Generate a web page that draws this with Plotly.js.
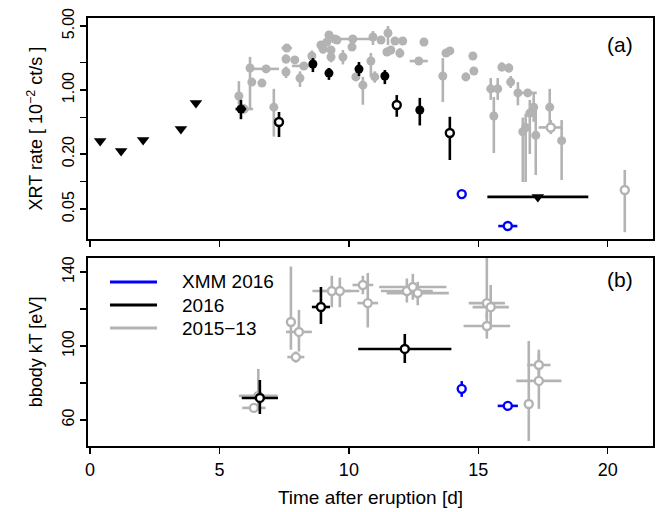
<!DOCTYPE html>
<html><head><meta charset="utf-8">
<script src="https://cdn.plot.ly/plotly-3.0.1.min.js"></script>
<style>html,body{margin:0;padding:0;background:#fff}#c{width:660px;height:512px}</style>
</head><body><div id="c"></div>
<script>
// ---------- Panel (a): XRT rate [1e-2 ct/s] ----------
// 2015-13 (gray, filled)
const g15X  = [5.75,6.18,5.95,6.25,6.64,6.80,7.10,7.60,7.57,7.91, 7.57,8.11,8.26,8.57,8.92,9.00,9.15,9.23,9.46,9.31, 9.31,9.54,9.77,10.15,10.12,10.27,10.93,11.24,11.51,11.47, 11.62,11.78,12.08,11.97,10.85,10.54,11.00,12.90,12.70,13.63, 13.75,13.90,14.52,14.79,14.83,15.48,15.75,15.60,15.91,16.18, 16.25,16.53,16.91,17.14,16.99,16.83,16.72,17.22,17.76,18.22];
const g15Y  = [0.86,1.74,0.62,1.22,1.19,1.70,0.65,2.87,2.18,2.13, 1.57,1.35,1.83,2.35,3.10,2.80,3.34,3.98,3.60,2.73, 2.29,3.51,2.29,3.60,2.95,1.39,3.79,3.51,4.19,2.60, 2.73,3.43,3.43,2.53,2.07,1.13,1.39,3.34,2.07,1.42, 2.53,2.67,1.39,2.35,1.61,1.03,1.03,0.52,1.78,1.74, 1.22,0.93,0.93,0.65,0.56,0.39,0.35,0.32,0.65,0.28];
const g15Lo = [0.69,0.61,0.55,1.16,1.13,1.62,0.31,2.70,1.95,1.95, 1.35,1.08,1.74,2.0,2.8,2.5,3.0,3.6,3.3,2.4, 2.0,3.2,1.9,3.3,2.7,1.25,3.1,3.2,3.1,2.35, 2.45,3.1,3.1,2.25,1.39,0.69,1.2,3.1,1.98,0.74, 2.35,2.5,1.25,2.2,1.5,0.78,0.78,0.205,1.6,1.55, 1.05,0.68,0.85,0.45,0.2,0.099,0.099,0.118,0.41,0.104];
const g15Hi = [1.25,2.3,0.70,1.29,1.25,1.78,1.03,3.05,2.45,2.35, 1.80,1.60,1.92,2.7,3.4,3.1,3.7,4.4,3.9,3.0, 2.6,3.8,2.73,3.9,3.2,1.55,4.4,3.85,5.0,2.9, 3.0,3.75,3.75,2.85,2.53,1.39,1.6,3.6,2.16,2.23, 2.7,2.85,1.55,2.5,1.72,1.35,1.35,0.84,2.0,1.95, 1.42,1.22,1.0,0.93,0.78,0.55,0.50,0.69,1.03,0.47];
const g15Xe = [0,0,0.35,0.15,0.15,0.5,0,0.2,0,0, 0,0,0.46,0,0,0,0,0.15,0,0, 0,0.15,0,0.7,0,0,0,0,0,0, 0,0,0,0,0,0,0,0.15,0.35,0, 0,0,0,0.15,0.15,0,0,0,0,0, 0,0,0.35,0,0,0,0,0,0,0];
// 2015-13 (gray, open)
const g15oX = [17.80, 20.66];
const g15oY = [0.39, 0.081];
const g15oLo = [0.33, 0.028];
const g15oHi = [0.47, 0.134];
const g15oXe = [0.47, 0];
// 2016 (black, filled)
const b16X  = [5.83, 8.61, 9.23, 10.39, 11.39, 12.74];
const b16Y  = [0.62, 1.92, 1.53, 1.69, 1.42, 0.605];
const b16Lo = [0.48, 1.57, 1.29, 1.42, 1.16, 0.41];
const b16Hi = [0.78, 2.23, 1.74, 2.02, 1.65, 0.82];
const b16Xe = [0.2, 0, 0, 0, 0, 0];
// 2016 (black, open)
const b16oX  = [7.30, 11.85, 13.90];
const b16oY  = [0.447, 0.686, 0.339];
const b16oLo = [0.307, 0.51, 0.172];
const b16oHi = [0.575, 0.88, 0.51];
const b16oXe = [0, 0.15, 0];
// 2016 upper limits (black triangles)
const ulX  = [0.39, 1.20, 2.05, 3.51, 4.09, 17.3];
const ulY  = [0.277, 0.216, 0.285, 0.375, 0.721, 0.068];
const ulXe = [0, 0, 0, 0, 0, 1.95];
// XMM 2016 (blue)
const xmmX  = [14.36, 16.14];
const xmmY  = [0.073, 0.0327];
const xmmLo = [0.070, 0.0315];
const xmmHi = [0.076, 0.034];
const xmmXe = [0.08, 0.37];

// ---------- Panel (b): bbody kT [eV] ----------
const kT15X  = [6.33, 6.50, 7.76, 8.07, 7.95, 9.34, 9.65, 10.54, 10.73, 12.24, 12.47, 12.66, 15.33, 15.48, 15.33, 16.95, 17.34, 17.34];
const kT15Y  = [66.5, 73.0, 113, 107.6, 94.0, 129.7, 129.7, 133, 123.2, 129.7, 131.9, 128.6, 123.2, 121, 110.8, 68.6, 89.7, 81.1];
const kT15Lo = [64, 65, 98, 97, 91, 121, 121, 128, 110, 123.5, 125, 122, 115, 109, 104, 48.6, 82, 66];
const kT15Hi = [69, 87.6, 143, 119.5, 97, 138, 137, 138, 139.5, 136.5, 139, 134.7, 150, 133, 118, 102.7, 98, 96];
const kT15Xe = [0.45, 0.75, 0, 0.5, 0.33, 0.75, 0.75, 0.4, 0.4, 1.0, 1.3, 1.2, 0.7, 0.7, 0.9, 0, 0.45, 0.87];
const kT16X  = [6.56, 8.92, 12.16];
const kT16Y  = [71.9, 121.1, 98.4];
const kT16Lo = [63.2, 111.9, 90.8];
const kT16Hi = [81.6, 131.9, 106.5];
const kT16Xe = [0.7, 0.35, 1.8];
const kTxmmX  = [14.36, 16.14];
const kTxmmY  = [76.8, 67.6];
const kTxmmLo = [72.5, 66.1];
const kTxmmHi = [81.0, 69.1];
const kTxmmXe = [0.1, 0.39];

// tick labels
const xTicks = [0, 5, 10, 15, 20];
const rateTicks = [0.05, 0.2, 1, 5];
const rateTickText = ['0.05', '0.20', '1.00', '5.00'];
const rateMinor = [0.1, 0.5, 2];
const kTTicks = [60, 100, 140];
const kTMinor = [80, 120];

const legendNames = ['XMM 2016', '2016', '2015\u221213'];
const GRAY = '#b3b3b3', BLACK = '#000000', BLUE = '#0000ff';
const legendColors = [BLUE, BLACK, GRAY];

function tr(xs, ys, lo, hi, xe, color, kind, xa, ya) {
  const open = kind === 'open';
  const tri = kind === 'tri';
  return {
    type: 'scatter', mode: 'markers', x: xs, y: ys, xaxis: xa, yaxis: ya, showlegend: false,
    hoverinfo: 'x+y',
    error_y: lo ? {type: 'data', symmetric: false, array: ys.map((v, i) => hi[i] - v), arrayminus: ys.map((v, i) => v - lo[i]), color: color, thickness: 2.6, width: 0} : {visible: false},
    error_x: {type: 'data', array: xe, color: color, thickness: 2.6, width: 0},
    marker: tri ? {symbol: 'triangle-down', size: 11, color: color}
      : open ? {symbol: 'circle', size: 8, color: '#ffffff', line: {color: color, width: 2.4}}
      : {symbol: 'circle', size: 9, color: color, line: {width: 0}}
  };
}

const data = [
  tr(g15X, g15Y, g15Lo, g15Hi, g15Xe, GRAY, 'fill', 'x2', 'y2'),
  tr(g15oX, g15oY, g15oLo, g15oHi, g15oXe, GRAY, 'open', 'x2', 'y2'),
  tr(b16X, b16Y, b16Lo, b16Hi, b16Xe, BLACK, 'fill', 'x2', 'y2'),
  tr(b16oX, b16oY, b16oLo, b16oHi, b16oXe, BLACK, 'open', 'x2', 'y2'),
  tr(ulX, ulY, null, null, ulXe, BLACK, 'tri', 'x2', 'y2'),
  tr(xmmX, xmmY, xmmLo, xmmHi, xmmXe, BLUE, 'open', 'x2', 'y2'),
  tr(kT15X, kT15Y, kT15Lo, kT15Hi, kT15Xe, GRAY, 'open', 'x', 'y'),
  tr(kT16X, kT16Y, kT16Lo, kT16Hi, kT16Xe, BLACK, 'open', 'x', 'y'),
  tr(kTxmmX, kTxmmY, kTxmmLo, kTxmmHi, kTxmmXe, BLUE, 'open', 'x', 'y')
];

const FONT = 'Liberation Sans, Arial, Helvetica, sans-serif';
const minorBase = {ticks: 'outside', ticklen: 6, tickwidth: 1.5, tickcolor: '#000', showgrid: false};
const axBase = {
  showline: true, mirror: true, linecolor: '#000', linewidth: 2,
  ticks: 'outside', ticklen: 6, tickwidth: 1.5, tickcolor: '#000',
  showgrid: false, zeroline: false, automargin: false, fixedrange: true
};

// manual legend (inside panel b, top-left), paper coordinates
const legRowY = [0.3832, 0.3294, 0.2757];
const shapes = legendNames.map((n, i) => ({
  type: 'line', xref: 'paper', yref: 'paper', x0: 0.0389, x1: 0.1221, y0: legRowY[i], y1: legRowY[i],
  line: {color: legendColors[i], width: 3}
}));
const annotations = legendNames.map((n, i) => ({
  xref: 'paper', yref: 'paper', x: 0.1628, y: legRowY[i], text: n, showarrow: false,
  xanchor: 'left', yanchor: 'middle', font: {size: 19}
}));
annotations.push(
  {xref: 'paper', yref: 'paper', x: 0.9416, y: 0.939, text: '(a)', showarrow: false, font: {size: 21}, xanchor: 'center', yanchor: 'middle'},
  {xref: 'paper', yref: 'paper', x: 0.9416, y: 0.388, text: '(b)', showarrow: false, font: {size: 21}, xanchor: 'center', yanchor: 'middle'}
);

const layout = {
  width: 660, height: 512,
  margin: {l: 88, r: 7, t: 18, b: 66},
  paper_bgcolor: '#fff', plot_bgcolor: '#fff',
  font: {family: FONT, color: '#000', size: 17},
  showlegend: false,
  xaxis: Object.assign({}, axBase, {
    domain: [0, 1], anchor: 'y', range: [-0.08, 21.75],
    tickmode: 'array', tickvals: xTicks, tickfont: {size: 18},
    title: {text: 'Time after eruption [d]', font: {size: 19}, standoff: 12}
  }),
  xaxis2: Object.assign({}, axBase, {
    domain: [0, 1], anchor: 'y2', range: [-0.08, 21.75], matches: 'x',
    tickmode: 'array', tickvals: xTicks, showticklabels: false
  }),
  yaxis: Object.assign({}, axBase, {
    domain: [0, 0.4393], anchor: 'x', range: [45.9, 147.6],
    tickmode: 'array', tickvals: kTTicks, ticktext: kTTicks.map(String),
    minor: Object.assign({tickmode: 'array', tickvals: kTMinor}, minorBase),
    tickangle: -90, tickfont: {size: 16},
    title: {text: 'bbody kT [eV]', font: {size: 18}, standoff: 12}
  }),
  yaxis2: Object.assign({}, axBase, {
    domain: [0.4836, 1], anchor: 'x2', type: 'log', range: [Math.log10(0.0236), Math.log10(6.11)],
    tickmode: 'array', tickvals: rateTicks, ticktext: rateTickText,
    minor: Object.assign({tickmode: 'array', tickvals: rateMinor}, minorBase),
    tickangle: -90, tickfont: {size: 16},
    title: {text: 'XRT rate [ 10<sup>\u22122</sup> ct/s ]', font: {size: 18}, standoff: 12}
  }),
  shapes: shapes,
  annotations: annotations
};
Plotly.newPlot('c', data, layout, {displayModeBar: false, staticPlot: true});
</script></body></html>
